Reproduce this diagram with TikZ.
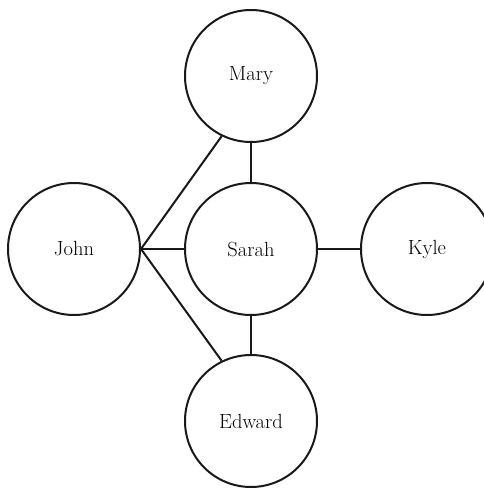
\documentclass[tikz,border=0pt]{standalone}
\usepackage{fontspec}
\begin{document}
\begin{tikzpicture}[x=1pt,y=-1pt,
  person/.style={circle,draw=black!90,line width=2pt,minimum size=132pt,inner sep=0pt,font=\fontsize{20.5}{22}\selectfont,text=black},
  link/.style={draw=black!90,line width=2pt}]
\useasboundingbox (0,0) rectangle (483,488);
\node[person] (mary) at (251,76) {Mary};
\node[person] (john) at (74,249) {John};
\node[person] (sarah) at (251,249) {Sarah};
\node[person] (kyle) at (427,249) {Kyle};
\node[person] (edward) at (251,421) {Edward};
\draw[link] (mary) -- (sarah);
\draw[link] (sarah) -- (kyle);
\draw[link] (sarah) -- (edward);
\draw[link] (john.east) -- (sarah);
\draw[link] (john.east) -- (mary.-116);
\draw[link] (john.east) -- (edward.116);
\end{tikzpicture}
\end{document}
